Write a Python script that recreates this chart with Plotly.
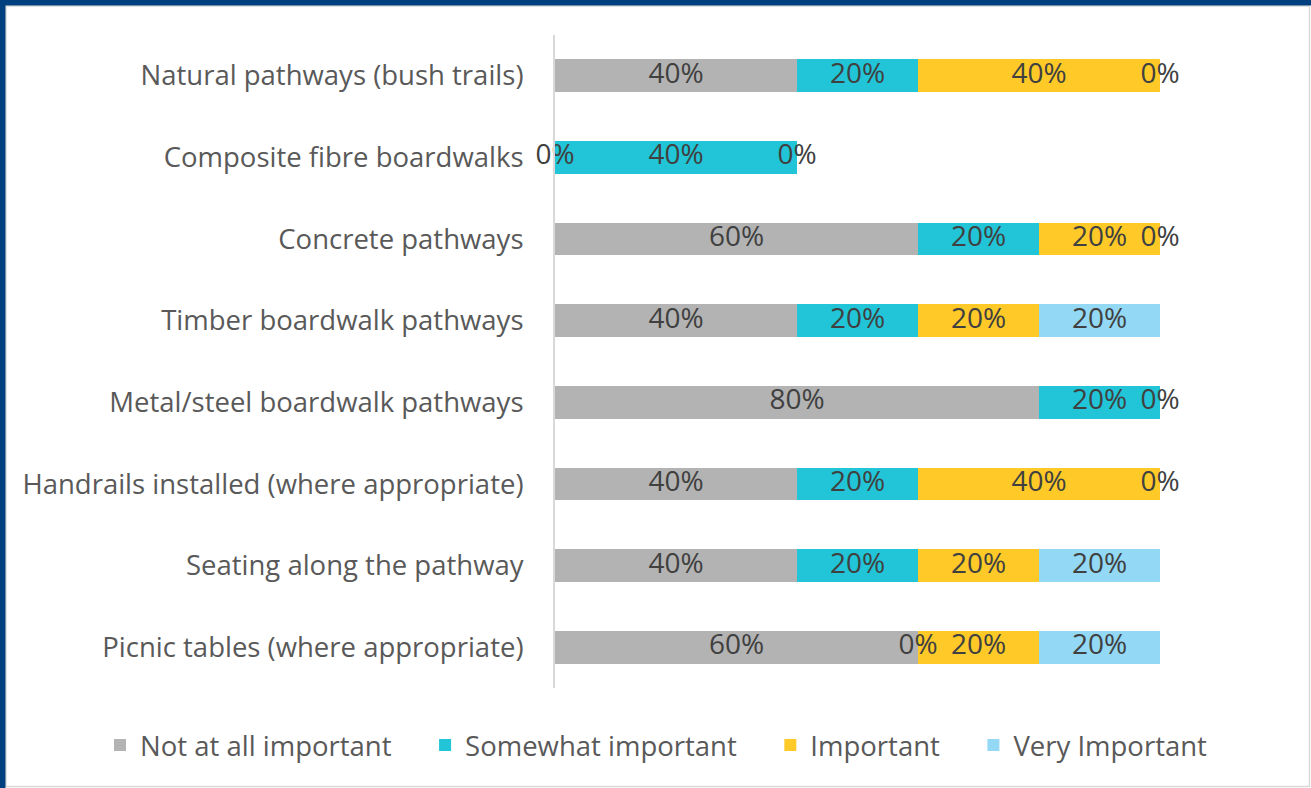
import plotly.graph_objects as go
import numpy as np

categories = [
    'Natural pathways (bush trails)',
    'Composite fibre boardwalks',
    'Concrete pathways',
    'Timber boardwalk pathways',
    'Metal/steel boardwalk pathways',
    'Handrails installed (where appropriate)',
    'Seating along the pathway',
    'Picnic tables (where appropriate)',
]
series_names = ['Not at all important', 'Somewhat important', 'Important', 'Very Important']
not_at_all = [0.4, 0.0, 0.6, 0.4, 0.8, 0.4, 0.4, 0.6]
somewhat = [0.2, 0.4, 0.2, 0.2, 0.2, 0.2, 0.2, 0.0]
important = [0.4, 0.0, 0.2, 0.2, 0.0, 0.4, 0.2, 0.2]
very_important = [0.0, None, 0.0, 0.2, None, 0.0, 0.2, 0.2]
colors = ['#B3B3B3', '#21C5D7', '#FFCA28', '#93D9F5']

W, H = 1311, 788
L, R, T, B = 555, 151, 35, 100
FONT = 'Open Sans, Noto Sans, sans-serif'
FS = 27.5

fig = go.Figure()
all_series = [not_at_all, somewhat, important, very_important]
for name, vals, col in zip(series_names, all_series, colors):
    # nbsp padding widens the gap between legend entries like the original
    fig.add_trace(go.Bar(
        y=categories, x=vals, name=name + '\u00a0' * 4, orientation='h',
        marker=dict(color=col, line=dict(width=0)),
        hovertemplate=name + ': %{x:.0%}<extra></extra>',
    ))

# data labels centred in each segment (zero segments sit on the boundary)
left = np.zeros(len(categories))
for vals in all_series:
    xs, ys, txt = [], [], []
    for i, v in enumerate(vals):
        if v is None:
            continue
        xs.append(left[i] + v / 2)
        ys.append(categories[i])
        txt.append(f'{v:.0%}')
        left[i] += v
    fig.add_trace(go.Scatter(
        x=xs, y=ys, text=txt, mode='text', showlegend=False, hoverinfo='skip',
        textposition='middle center',
        textfont=dict(family=FONT, size=28, color='#404040'), cliponaxis=False,
    ))

# frame around the chart (converted from pixels into paper coords)
def px(x):
    return (x - L) / (W - L - R)

def py(y):
    return (H - B - y) / (H - T - B)

fig.add_shape(type='rect', xref='paper', yref='paper',
              x0=px(6), x1=px(1309.5), y0=py(6), y1=py(786.5),
              line=dict(color='#D9D9D9', width=1.5), layer='below')
fig.add_shape(type='rect', xref='paper', yref='paper',
              x0=px(0), x1=px(W), y0=py(0), y1=py(5.5),
              fillcolor='#00407F', line=dict(width=0))
fig.add_shape(type='rect', xref='paper', yref='paper',
              x0=px(0), x1=px(5.5), y0=py(0), y1=py(H),
              fillcolor='#00407F', line=dict(width=0))

fig.update_layout(
    width=W, height=H,
    margin=dict(l=L, r=R, t=T, b=B),
    barmode='stack', bargap=0.6,
    plot_bgcolor='white', paper_bgcolor='white',
    font=dict(family=FONT, size=FS, color='#595959'),
    legend=dict(orientation='h', x=px(100), xanchor='left',
                y=py(745), yanchor='middle', font=dict(size=FS, color='#595959'),
                traceorder='normal'),
    showlegend=True,
)
fig.update_xaxes(range=[0, 1], visible=False, showgrid=False, zeroline=False)
fig.update_yaxes(autorange='reversed', showline=True, linecolor='#D9D9D9', linewidth=2,
                 ticks='', ticklabelstandoff=24, showgrid=False,
                 tickfont=dict(size=FS, color='#595959'))

fig.write_html('out.html', config={'displayModeBar': False},
               post_script="document.body.style.margin='0';")
